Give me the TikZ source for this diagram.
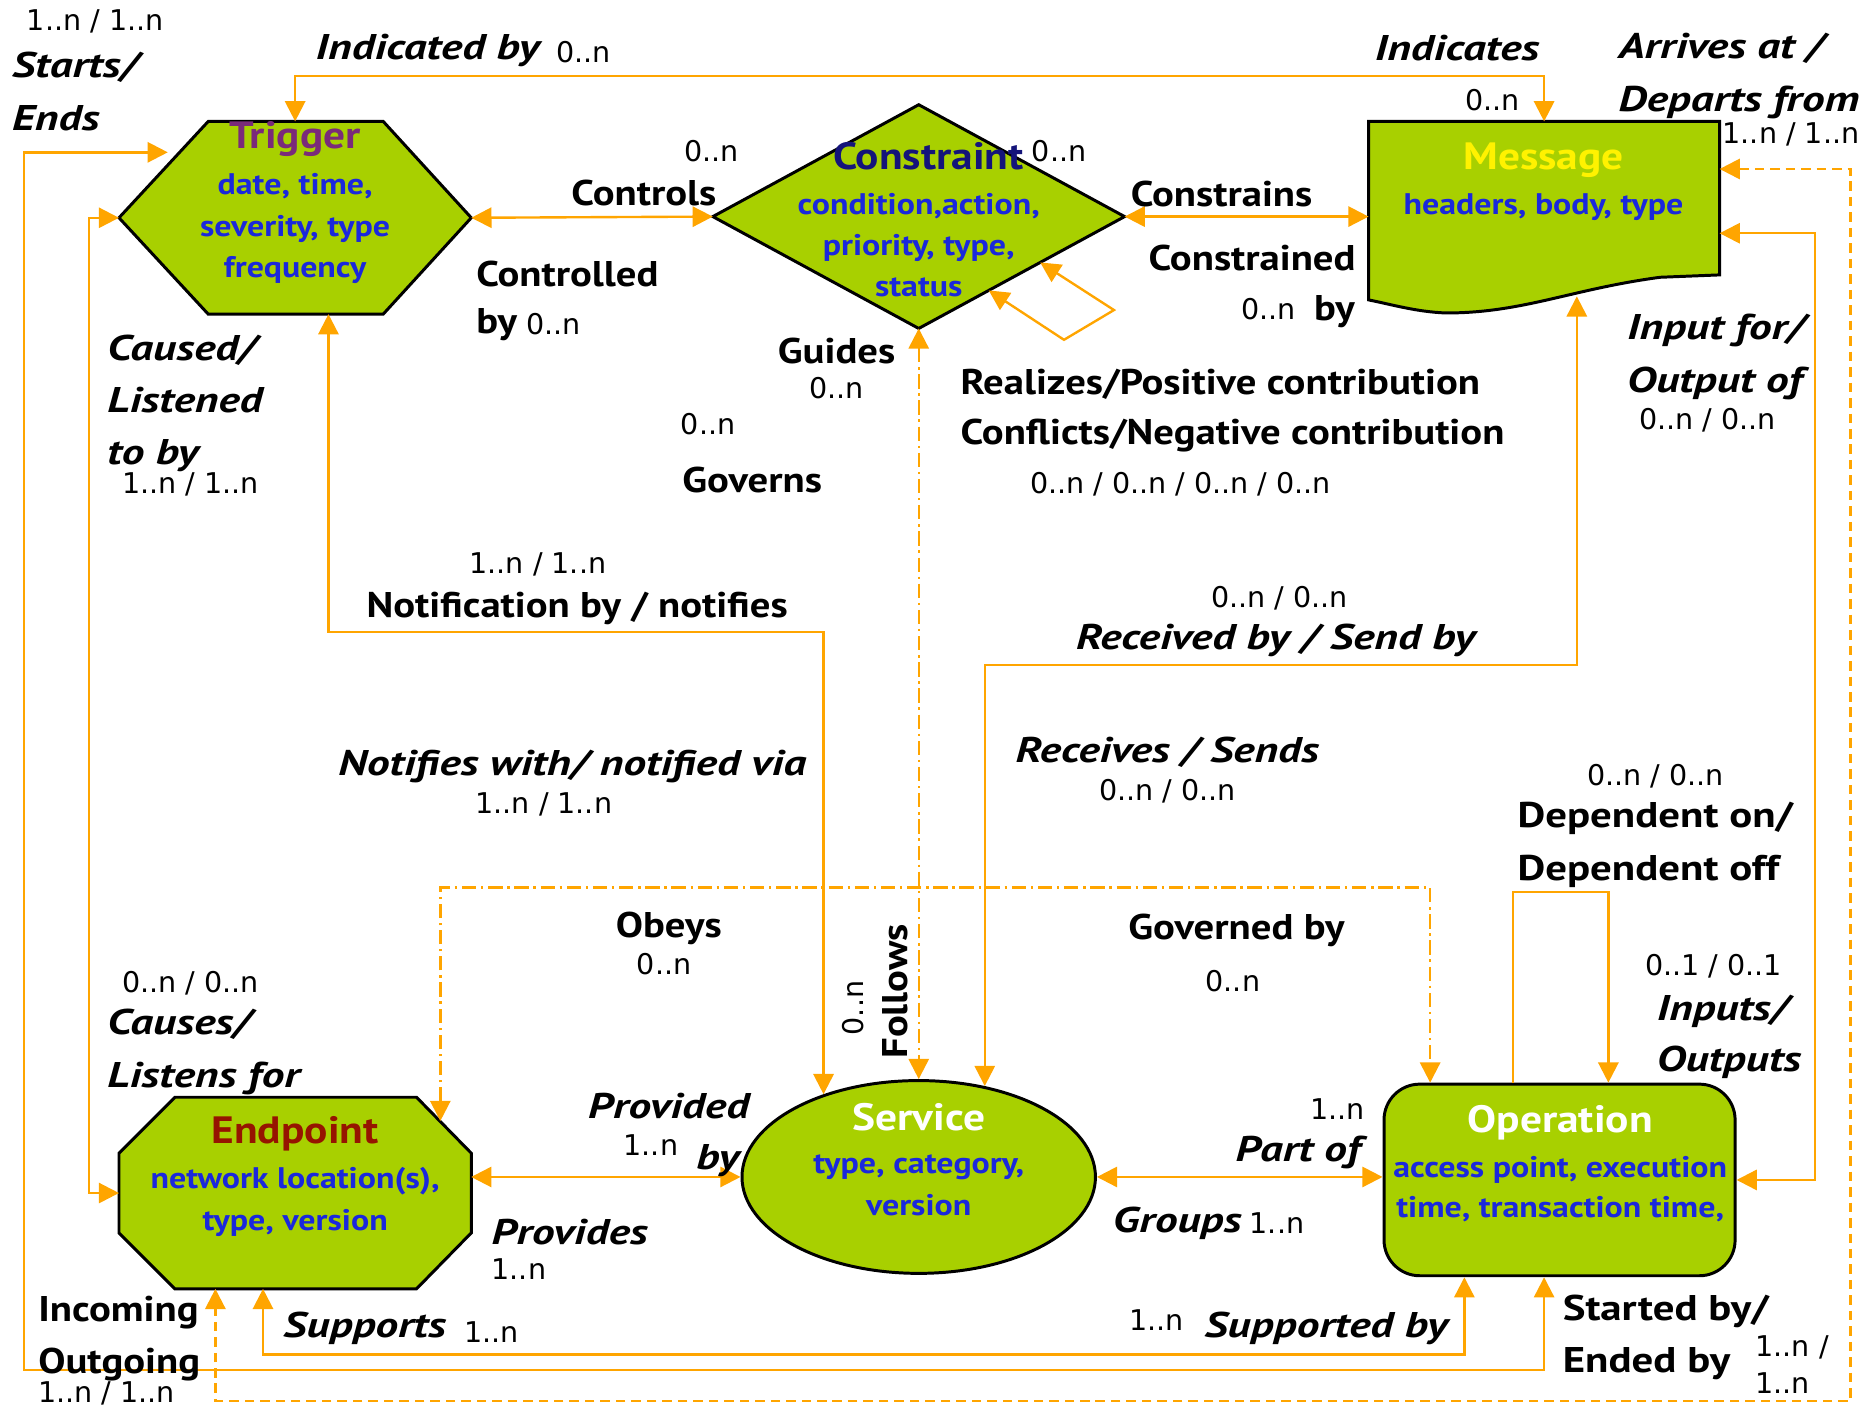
\documentclass[tikz,border=0pt]{standalone}
\usepackage{fontspec}
\setmainfont{PT Sans}[BoldFeatures={FakeStretch=1.14}, BoldItalicFeatures={FakeStretch=1.27}]
\newfontfamily\cardfont{DejaVu Sans}
\newfontfamily\widefont{PT Sans}[BoldFeatures={FakeStretch=1.2}, BoldItalicFeatures={FakeStretch=1.26}]
\usetikzlibrary{arrows.meta,calc,shapes.geometric}

\definecolor{leaf}{HTML}{A8D000}
\definecolor{wire}{HTML}{FFA500}
\definecolor{attrblue}{HTML}{1A28DC}
\definecolor{trigcol}{HTML}{7A2A7A}
\definecolor{conscol}{HTML}{14147A}
\definecolor{endpcol}{HTML}{961400}

\tikzset{
  body/.style={draw=black, line width=2.5pt, fill=leaf},
  slot/.style={rectangle, inner sep=0pt, outer sep=0pt},
  conn/.style={draw=wire, line width=2pt},
  dashdot/.style={conn, dash pattern=on 12pt off 4pt on 2pt off 4pt},
  dashline/.style={conn, dash pattern=on 8pt off 5pt},
  lbl/.style={font=\fontsize{30}{44}\selectfont\bfseries, inner sep=0pt, align=left},
  ilbl/.style={font=\fontsize{30}{44}\selectfont\bfseries\itshape, inner sep=0pt, align=left},
  wlbl/.style={font=\widefont\fontsize{30}{44}\selectfont\bfseries, inner sep=0pt, align=left},
  wilbl/.style={font=\widefont\fontsize{30}{43}\selectfont\bfseries\itshape, inner sep=0pt, align=left},
  card/.style={font=\cardfont\fontsize{24}{31}\selectfont, inner sep=0pt, align=left},
  ttl/.style={font=\fontsize{32}{36}\selectfont\bfseries, inner sep=0pt},
  attr/.style={font=\fontsize{25}{34.5}\selectfont\bfseries, text=attrblue, inner sep=0pt, align=center},
}

\begin{document}
\begin{tikzpicture}[x=1pt, y=-1pt, >={Triangle[length=17pt,width=17pt]}]
\useasboundingbox (0,0) rectangle (1568,1185);

% ---------- entities ----------
% Trigger: hexagon
\node[slot, minimum width=296pt, minimum height=162pt] (trig) at (248,183) {};
\draw[body] ($(trig.north west)+(75,0)$) -- ($(trig.north east)+(-74,0)$) -- (trig.east)
  -- ($(trig.south east)+(-74,0)$) -- ($(trig.south west)+(75,0)$) -- (trig.west) -- cycle;

% Constraint: diamond
\node[slot, minimum width=346pt, minimum height=188pt] (cons) at (772,182) {};
\draw[body] (cons.north) -- (cons.east) -- (cons.south) -- (cons.west) -- cycle;

% Message: document shape with a wavy lower edge
\node[slot, minimum width=295pt, minimum height=160pt] (msg) at (1297.5,182) {};
\draw[body] (msg.north west) -- (msg.north east) -- (1445,231) -- (1395,233)
  .. controls (1320,243) and (1280,263) .. (1215,263)
  .. controls (1190,262) and (1170,256) .. (1150,252) -- cycle;

% Endpoint: octagon
\node[slot, minimum width=296pt, minimum height=161pt] (endp) at (248,1002.5) {};
\draw[body] ($(endp.north west)+(47,0)$) -- ($(endp.north east)+(-46,0)$) -- ($(endp.north east)+(0,47)$)
  -- ($(endp.south east)+(0,-47)$) -- ($(endp.south east)+(-46,0)$) -- ($(endp.south west)+(47,0)$)
  -- ($(endp.south west)+(0,-47)$) -- ($(endp.north west)+(0,47)$) -- cycle;

% Service: ellipse
\node[body, ellipse, inner sep=0pt, minimum width=297pt, minimum height=162pt] (serv) at (772,989) {};

% Operation: rounded box
\node[body, rectangle, rounded corners=30pt, minimum width=295pt, minimum height=161pt] (oper) at (1310.5,991.5) {};

% ---------- relationships ----------
% Indicated by / Indicates
\draw[conn,<->] (trig.north) |- ($(msg.north)+(0,-38)$) -- (msg.north);
% Controls / Controlled by
\draw[conn,<->] (trig.east) -- (cons.west);
% Constrains / Constrained by
\draw[conn,<->] (cons.east) -- (cons.east -| msg.west);
% Realizes / Conflicts (self loop)
\coordinate (loopA) at ($(cons.east)!0.41!(cons.south)$);
\coordinate (loopB) at ($(cons.east)!0.66!(cons.south)$);
\draw[conn,<->] (loopA) -- ++(62,40) -- ++(-42,25) -- (loopB);
% Notification by / notifies
\draw[conn,<->] ($(trig.south)+(28,0)$) |- (serv.139.8 |- 0,531) -- (serv.139.8);
% Guides / Follows
\draw[dashdot,<->] (cons.south) -- (serv.north);
% Received by / Send by
\coordinate (msgB) at (1325,249);
\draw[conn,<->] (msgB) |- (serv.54.7 |- 0,559) -- (serv.54.7);
% Obeys / Governed by
\coordinate (endpNE) at ($(endp.north east)+(-26,20)$);
\draw[dashdot,<->] (endpNE) |- ($(oper.north west)+(40,-164)$) -- ($(oper.north west)+(40,0)$);
% Dependent on / Dependent off
\draw[conn,->] ($(oper.north)+(-39,0)$) -- ++(0,-160) -| ($(oper.north)+(41,0)$);
% Input for / Output of
\draw[conn,<->] (oper.east) -| ($(msg.north east)+(80,94)$) -- ($(msg.north east)+(0,94)$);
% Arrives at / Departs from
\draw[dashline,<->] ($(msg.north east)+(0,40)$) -- ++(110,0) |- ($(endp.south west)+(81,94)$) -- ($(endp.south west)+(81,0)$);
% Starts / Ends
\draw[conn,<->] ($(oper.south)+(-13,0)$) -- ++(0,78) -| ($(trig.west)+(-80,-55)$) -- ($(trig.west)+(41,-55)$);
% Supports / Supported by
\draw[conn,<->] ($(endp.south)+(-27,0)$) |- ($(oper.south)+(-80,65)$) -- ($(oper.south)+(-80,0)$);
% Caused / Listened to by
\draw[conn,<->] (trig.west) -- ++(-25,0) |- (endp.west);
% Provides / Provided by
\draw[conn,<->] (endp.east |- serv.west) -- (serv.west);
% Groups / Part of
\draw[conn,<->] (serv.east) -- (serv.east -| oper.west);

% ---------- entity texts ----------
\node[ttl, text=trigcol] (trigT) at (248,117) {Trigger};
\node[attr] (trigA) at (248,192) {date, time,\\severity, type\\frequency};
\node[ttl, text=conscol] (consT) at (780,131) {Constraint};
\node[attr] (consA) at (772,206) {condition,action,\\priority, type,\\status};
\node[ttl, text=yellow] (msgT) at (1297,135) {Message};
\node[attr] (msgA) at (1297,174) {headers, body, type};
\node[ttl, text=endpcol] (endpT) at (248,953) {Endpoint};
\node[attr] (endpA) at (248,1010) {network location(s),\\type, version};
\node[ttl, text=white] (servT) at (772,939) {Service};
\node[attr] (servA) at (772,996) {type, category,\\version};
\node[ttl, text=white] (operT) at (1311,943) {Operation};
\node[attr, font=\fontsize{25}{34}\selectfont\bfseries] (operA) at (1311,999) {access point, execution\\time, transaction time,};

% ---------- relationship labels ----------
\node[card] (c01) at (80,18) {1..n / 1..n};
\node[ilbl, anchor=west] (l01) at (10,77) {Starts/\\Ends};
\node[ilbl, anchor=west] (l02) at (265,42) {Indicated by};
\node[card, anchor=west] (c02) at (467,44) {0..n};
\node[ilbl, anchor=west] (l03) at (1155,40) {Indicates};
\node[card] (c03) at (1254,84) {0..n};
\node[ilbl, anchor=west] (l04) at (1360,64) {Arrives at /\\Departs from};
\node[card] (c04) at (1505,113) {1..n / 1..n};

\node[card] (c05) at (598,127) {0..n};
\node[lbl, anchor=west] (l05) at (480,162) {Controls};
\node[card] (c06) at (890,127) {0..n};
\node[lbl, anchor=west] (l06) at (950,163) {Constrains};
\node[lbl, anchor=west] (l07) at (400,230) {Controlled};
\node[lbl, anchor=west] (l08) at (400,273) {by};
\node[card, anchor=west] (c07) at (442,272) {0..n};
\node[lbl, anchor=west] (l09) at (965,217) {Constrained};
\node[card] (c08) at (1066,260) {0..n};
\node[lbl, anchor=west] (l10) at (1104,262) {by};

\node[ilbl, anchor=west] (l11) at (90,339) {Caused/\\Listened\\to by};
\node[card] (c09) at (160,407) {1..n / 1..n};
\node[lbl] (l12) at (703,295) {Guides};
\node[card] (c10) at (703,326) {0..n};
\node[card] (c11) at (595,356) {0..n};
\node[lbl] (l13) at (632,403) {Governs};
\node[lbl, anchor=west] (l14) at (807,323) {Realizes/Positive contribution};
\node[lbl, anchor=west] (l15) at (807,366) {Conflicts/Negative contribution};
\node[card] (c12) at (992,407) {0..n / 0..n / 0..n / 0..n};
\node[ilbl, anchor=west] (l16) at (1367,300) {Input for/\\Output of};
\node[card] (c13) at (1435,353) {0..n / 0..n};

\node[card] (c14) at (452,474) {1..n / 1..n};
\node[lbl, font=\fontsize{30}{44}\selectfont\bfseries\addfontfeature{FakeStretch=1.24}] (l17) at (485,511) {Notification by / notifies};
\node[card] (c15) at (1075,503) {0..n / 0..n};
\node[ilbl] (l18) at (1072,538) {Received by / Send by};
\node[ilbl] (l19) at (481,644) {Notifies with/ notified via};
\node[card] (c16) at (457,676) {1..n / 1..n};
\node[ilbl] (l20) at (981,632) {Receives / Sends};
\node[card] (c17) at (981,665) {0..n / 0..n};

\node[card] (c18) at (1391,652) {0..n / 0..n};
\node[wlbl, anchor=west] (l21) at (1275,710) {Dependent on/\\Dependent off};
\node[lbl] (l22) at (562,780) {Obeys};
\node[card] (c19) at (558,810) {0..n};
\node[lbl] (l23) at (1039,782) {Governed by};
\node[card] (c20) at (1036,824) {0..n};
\node[lbl, rotate=90] (l24) at (752,833) {Follows};
\node[card, rotate=90] (c21) at (717,847) {0..n};
\node[card] (c22) at (1440,812) {0..1 / 0..1};
\node[wilbl, anchor=west] (l25) at (1392,871) {Inputs/\\Outputs};

\node[card] (c23) at (160,826) {0..n / 0..n};
\node[ilbl, anchor=west] (l26) at (90,884) {Causes/\\Listens for};
\node[ilbl, anchor=west] (l27) at (494,929) {Provided};
\node[card] (c24) at (547,962) {1..n};
\node[ilbl, anchor=west] (l28) at (585,975) {by};
\node[card] (c25) at (1124,932) {1..n};
\node[ilbl, anchor=west] (l29) at (1038,968) {Part of};
\node[ilbl, anchor=west] (l30) at (413,1035) {Provides};
\node[card, anchor=west] (c26) at (413,1066) {1..n};
\node[ilbl, anchor=west] (l31) at (935,1028) {Groups};
\node[card, anchor=west] (c27) at (1050,1028) {1..n};

\node[lbl, anchor=west] (l32) at (32,1125) {Incoming\\Outgoing};
\node[card, anchor=west] (c28) at (32,1171) {1..n / 1..n};
\node[ilbl, anchor=west] (l33) at (238,1116) {Supports};
\node[card, anchor=west] (c29) at (390,1119) {1..n};
\node[card] (c30) at (972,1109) {1..n};
\node[ilbl, anchor=west] (l34) at (1012,1116) {Supported by};
\node[wlbl, anchor=west] (l35) at (1313,1124) {Started by/\\Ended by};
\node[card, anchor=west] (c31) at (1475,1147) {1..n /\\1..n};
\end{tikzpicture}
\end{document}
